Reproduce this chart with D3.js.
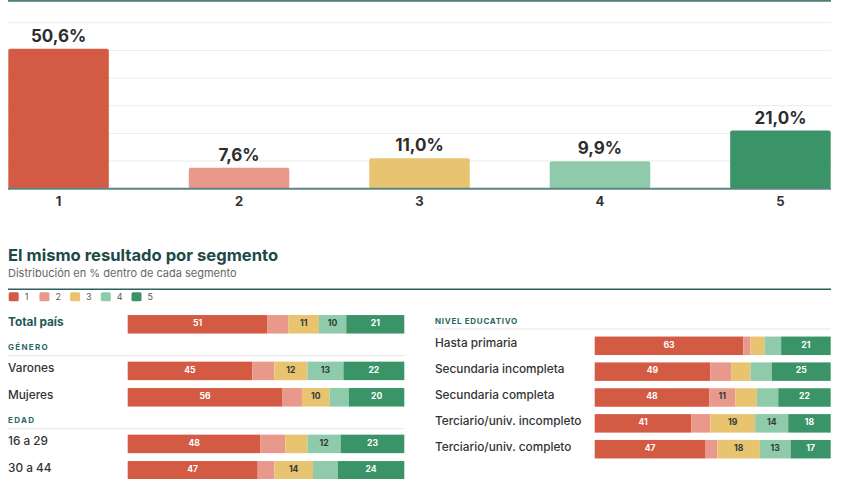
<!DOCTYPE html>
<html>
<head>
<meta charset="utf-8">
<script src="https://cdn.jsdelivr.net/npm/d3@7"></script>
<style>
  html, body { margin: 0; padding: 0; background: #fff; }
  svg { display: block; font-family: Inter, "Open Sans", sans-serif; }
</style>
</head>
<body>
<svg id="chart" width="847" height="479"></svg>
<script>
// ---------- DATA ----------
const categories = ["1", "2", "3", "4", "5"];
const totalValues = [50.6, 7.6, 11.0, 9.9, 21.0];
const gridTicks = [10, 20, 30, 40, 50, 60];
const colors = ["#d35a43", "#e9998c", "#e8c470", "#8fcaaa", "#3b9468"];

const titleText = "El mismo resultado por segmento";
const subtitleText = "Distribución en % dentro de cada segmento";

const leftLabels = ["Total país", "GÉNERO", "Varones", "Mujeres", "EDAD", "16 a 29", "30 a 44"];
const leftIsHeader = [false, true, false, false, true, false, false];
const leftValues = [
  [50.6, 7.6, 11.0, 9.9, 21.0],
  null,
  [45, 8, 12, 13, 22],
  [56, 7, 10, 7, 20],
  null,
  [48, 9, 8, 12, 23],
  [47, 6, 14, 9, 24]
];

const rightHeader = "NIVEL EDUCATIVO";
const rightLabels = ["Hasta primaria", "Secundaria incompleta", "Secundaria completa",
                     "Terciario/univ. incompleto", "Terciario/univ. completo"];
const rightValues = [
  [63, 3, 6, 7, 21],
  [49, 9, 8, 9, 25],
  [48, 11, 9, 9, 22],
  [41, 8, 19, 14, 18],
  [47, 5, 18, 13, 17]
];

// ---------- DRAW ----------
const svg = d3.select("#chart");
svg.append("rect").attr("width", 847).attr("height", 479).attr("fill", "#fff");

const fmtPct = v => d3.format(".1f")(v).replace(".", ",") + "%";

// top chart
const x = d3.scaleBand().domain(categories).range([8.3, 830.7]).paddingInner(0.443).paddingOuter(0);
const y = d3.scaleLinear().domain([0, 60]).range([188.7, 22.7]);

svg.append("line").attr("x1", 8).attr("x2", 831).attr("y1", 0.8).attr("y2", 0.8)
  .attr("stroke", "#4f7e7b").attr("stroke-width", 2);

svg.append("g").selectAll("line").data(gridTicks).join("line")
  .attr("x1", 8).attr("x2", 831)
  .attr("y1", d => y(d)).attr("y2", d => y(d))
  .attr("stroke", "#ebebeb").attr("stroke-width", 1);

svg.append("g").selectAll("rect").data(totalValues).join("rect")
  .attr("x", (d, i) => x(categories[i]))
  .attr("y", d => y(d))
  .attr("width", x.bandwidth())
  .attr("height", d => y(0) - y(d))
  .attr("rx", 2)
  .attr("fill", (d, i) => colors[i]);

svg.append("g").selectAll("text").data(totalValues).join("text")
  .attr("x", (d, i) => x(categories[i]) + x.bandwidth() / 2)
  .attr("y", d => y(d) - 7)
  .attr("text-anchor", "middle")
  .attr("font-size", 17).attr("font-weight", 700).attr("fill", "#2d2d2d")
  .text(d => fmtPct(d));

svg.append("line").attr("x1", 8).attr("x2", 831).attr("y1", y(0)).attr("y2", y(0))
  .attr("stroke", "#5b8583").attr("stroke-width", 2);

const xAxis = svg.append("g").attr("transform", `translate(0,${y(0)})`)
  .call(d3.axisBottom(x).tickSize(0).tickPadding(0));
xAxis.select(".domain").remove();
xAxis.selectAll("text").attr("dy", 0).attr("y", 17)
  .attr("font-family", "Inter, sans-serif")
  .attr("font-size", 13).attr("font-weight", 700).attr("fill", "#333");

// bottom section title
svg.append("text").attr("x", 8).attr("y", 260.7)
  .attr("font-size", 16.6).attr("font-weight", 700).attr("fill", "#1d4a48")
  .text(titleText);
svg.append("text").attr("x", 8).attr("y", 277)
  .attr("font-size", 11).attr("font-weight", 400).attr("fill", "#666")
  .text(subtitleText);
svg.append("line").attr("x1", 8).attr("x2", 831).attr("y1", 289.3).attr("y2", 289.3)
  .attr("stroke", "#2f5f5d").attr("stroke-width", 1.5);

// legend
const lg = svg.append("g").selectAll("g").data(categories).join("g")
  .attr("transform", (d, i) => `translate(${8.7 + i * 30.7},292.3)`);
lg.append("rect").attr("width", 10).attr("height", 9).attr("rx", 1.5)
  .attr("fill", (d, i) => colors[i]);
lg.append("text").attr("x", 16).attr("y", 8).attr("font-size", 9)
  .attr("fill", "#555").text(d => d);

// stacked rows
function drawStack(g, vals, xs, cy) {
  const h = 18.5;
  const row = {};
  vals.forEach((v, i) => row[categories[i]] = v);
  const series = d3.stack().keys(categories).offset(d3.stackOffsetExpand)([row]);
  series.forEach((s, i) => {
    const seg = s[0];
    g.append("rect")
      .attr("x", xs(seg[0])).attr("y", cy - h / 2)
      .attr("width", Math.max(0, xs(seg[1]) - xs(seg[0])))
      .attr("height", h)
      .attr("fill", colors[i]);
    const v = vals[i];
    if (Math.round(v) >= 10) {
      g.append("text")
        .attr("x", (xs(seg[0]) + xs(seg[1])) / 2).attr("y", cy + 1.8)
        .attr("text-anchor", "middle")
        .attr("font-size", 8.6).attr("font-weight", 700)
        .attr("fill", (i === 0 || i === 4) ? "#fff" : "#2f3a38")
        .text(Math.round(v));
    }
  });
}

// left panel
const xl = d3.scaleLinear().domain([0, 1]).range([127.7, 404.3]);
const leftG = svg.append("g");
let prevCenter = null;
let afterHeader = false;
leftLabels.forEach((lab, i) => {
  if (leftIsHeader[i]) {
    const top = prevCenter + 13.2;
    leftG.append("text").attr("x", 8).attr("y", top + 12.5)
      .attr("font-size", 8).attr("font-weight", 700).attr("letter-spacing", 1.3)
      .attr("fill", "#2d6863").text(lab);
    leftG.append("line").attr("x1", 8).attr("x2", 404.3)
      .attr("y1", top + 18.2).attr("y2", top + 18.2)
      .attr("stroke", "#e6e6e6").attr("stroke-width", 1);
    afterHeader = true;
  } else {
    const c = prevCenter === null ? 324.3 : prevCenter + (afterHeader ? 46.6 : 26.4);
    afterHeader = false;
    prevCenter = c;
    leftG.append("text").attr("x", 8).attr("y", c + 1.5)
      .attr("font-size", i === 0 ? 11.8 : 11.8)
      .attr("font-weight", i === 0 ? 700 : 500)
      .attr("fill", i === 0 ? "#245754" : "#333")
      .text(lab);
    drawStack(leftG, leftValues[i], xl, c);
  }
});

// right panel
const xr = d3.scaleLinear().domain([0, 1]).range([594.7, 830.7]);
const rightG = svg.append("g");
rightG.append("text").attr("x", 435).attr("y", 323.6)
  .attr("font-size", 8).attr("font-weight", 700).attr("letter-spacing", 0.7)
  .attr("fill", "#2d6863").text(rightHeader);
rightG.append("line").attr("x1", 435).attr("x2", 830.7).attr("y1", 329).attr("y2", 329)
  .attr("stroke", "#e6e6e6").attr("stroke-width", 1);
const yr = d3.scalePoint().domain(rightLabels).range([345.8, 449.2]);
rightLabels.forEach((lab, i) => {
  const c = yr(lab);
  rightG.append("text").attr("x", 435).attr("y", c + 1.5)
    .attr("font-size", 11.8).attr("font-weight", 500).attr("fill", "#333").text(lab);
  drawStack(rightG, rightValues[i], xr, c);
});
</script>
</body>
</html>
